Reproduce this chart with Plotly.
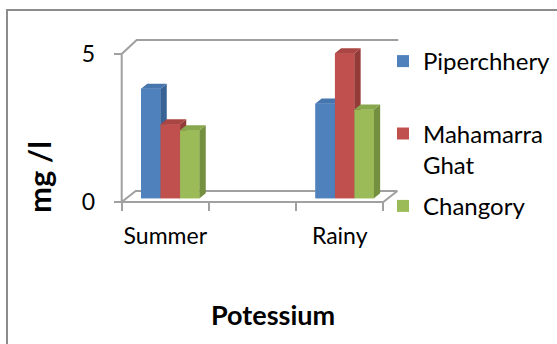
import plotly.graph_objects as go

# ---- data -------------------------------------------------------------
categories = ["Summer", "Rainy"]
series_names = ["Piperchhery<br> ", "Mahamarra<br>Ghat", "Changory"]
piperchhery = [3.7, 3.2]
mahamarra_ghat = [2.5, 4.9]
changory = [2.3, 3.0]
y_tick_values = [0, 5]
y_tick_labels = ["0", "5"]
x_title = "Potessium"
y_title = "mg /l"

series_values = [piperchhery, mahamarra_ghat, changory]

# ---- styling ------------------------------------------------------------
FRONT = ["#4F81BD", "#C0504D", "#9BBB59"]
SIDE = ["#3A6395", "#933B39", "#748F3F"]
TOP = ["#4776AF", "#A94542", "#89A84D"]
FRAME = "#A0A0A0"
FONT = "Lato"

W, H = 557, 344
# plot area in pixels (taller than the drawn frame so the legend fits without scrolling)
PL, PR, PT, PB = 117, 404, 4, 330
# front plane: pixel of x=-0.5 and px per x unit; pixel of y=0 and px per y unit
X0_PX, X_UNIT = 121.7, 87.2
Y0_PX, Y_UNIT = 202.0, 29.6

x_range = [-0.5 - (X0_PX - PL) / X_UNIT, -0.5 + (PR - X0_PX) / X_UNIT]
y_range = [-(PB - Y0_PX) / Y_UNIT, (Y0_PX - PT) / Y_UNIT]


def px_x(p):
    return p / X_UNIT


def px_y(p):
    return p / Y_UNIT


def paper_x(px):
    return (px - PL) / (PR - PL)


def paper_y(py):
    return (PB - py) / (PB - PT)


cat_x = [2 * i for i in range(len(categories))]
x_lo, x_hi = cat_x[0] - 0.5, cat_x[-1] + 0.5
y_lo, y_hi = y_tick_values[0], y_tick_values[-1]

# oblique depth offsets (data units)
floor_dx, floor_dy = px_x(14), px_y(11)
ceil_dx, ceil_dy = px_x(15), px_y(14)
bar_sx, bar_sy = px_x(5), px_y(3.7)        # bar front plane
bar_dx, bar_dy = px_x(6.2), px_y(5)        # bar depth
bar_w = px_x(19.5)

fig = go.Figure()

# legend / base bars (front faces)
for i, (name, vals) in enumerate(zip(series_names, series_values)):
    fig.add_trace(go.Bar(
        x=cat_x, y=vals, base=bar_sy, width=bar_w,
        offset=-1.5 * bar_w + i * bar_w + bar_sx,
        name=name, marker=dict(color=FRONT[i], line=dict(width=0)),
        legendgroup=f"g{i}", hoverinfo="skip",
    ))

# walls and floor outline
fx, fy = [], []
fx += [x_lo, x_lo, x_lo + ceil_dx, x_hi + ceil_dx, None]
fy += [y_lo, y_hi, y_hi + ceil_dy, y_hi + ceil_dy, None]
fx += [x_lo, x_hi, x_hi + floor_dx, x_lo + floor_dx, x_lo, None]
fy += [y_lo, y_lo, y_lo + floor_dy, y_lo + floor_dy, y_lo, None]
fig.add_trace(go.Scatter(x=fx, y=fy, mode="lines", line=dict(color=FRAME, width=2),
                         showlegend=False, hoverinfo="skip"))

# 3D faces of every bar, painted left to right
for i, vals in enumerate(series_values):
    px_, py_, sx_, sy_, tx_, ty_ = [], [], [], [], [], []
    for c, v in zip(cat_x, vals):
        xl = c - 1.5 * bar_w + i * bar_w + bar_sx
        xr = xl + bar_w
        b, t = bar_sy, bar_sy + v
        px_ += [xl, xr, xr, xl, xl, None]
        py_ += [b, b, t, t, b, None]
        sx_ += [xr, xr + bar_dx, xr + bar_dx, xr, xr, None]
        sy_ += [b, b + bar_dy, t + bar_dy, t, b, None]
        tx_ += [xl, xr, xr + bar_dx, xl + bar_dx, xl, None]
        ty_ += [t, t, t + bar_dy, t + bar_dy, t, None]
    for xs, ys, col in ((px_, py_, FRONT[i]), (sx_, sy_, SIDE[i]), (tx_, ty_, TOP[i])):
        fig.add_trace(go.Scatter(x=xs, y=ys, mode="lines", fill="toself",
                                 fillcolor=col, line=dict(width=0, color=col),
                                 showlegend=False, hoverinfo="skip"))

fig.update_layout(
    width=W, height=H,
    margin=dict(l=PL, r=W - PR, t=PT, b=H - PB, pad=0, autoexpand=False),
    paper_bgcolor="white", plot_bgcolor="rgba(0,0,0,0)",
    barmode="overlay",
    font=dict(family=FONT, size=23, color="#000000"),
    showlegend=True,
    legend=dict(
        x=paper_x(383), y=paper_y(39), xanchor="left", yanchor="top",
        bgcolor="rgba(0,0,0,0)", borderwidth=0, tracegroupgap=7,
        valign="top", font=dict(family=FONT, size=24, color="#000000"),
        traceorder="grouped",
    ),
    xaxis=dict(
        range=x_range, anchor="free", position=(PB - Y0_PX) / (PB - PT),
        tickmode="array", tickvals=cat_x, ticktext=categories, ticks="",
        ticklabelstandoff=18, showgrid=False, zeroline=False, showline=False,
        minor=dict(tickmode="array", tickvals=[k - 0.5 for k in range(len(cat_x) * 2)],
                   ticks="outside", ticklen=8, tickwidth=2, tickcolor=FRAME, showgrid=False),
        fixedrange=True,
    ),
    yaxis=dict(
        range=y_range, anchor="free", position=(X0_PX - PL) / (PR - PL),
        tickmode="array", tickvals=y_tick_values, ticktext=y_tick_labels,
        ticks="outside", ticklen=8, tickwidth=2, tickcolor=FRAME,
        ticklabelstandoff=14, showgrid=False, zeroline=False, showline=False,
        fixedrange=True,
    ),
    annotations=[
        dict(text=f"<b>{y_title}</b>", x=paper_x(39), y=paper_y(177), xref="paper", yref="paper",
             showarrow=False, textangle=-90, font=dict(family=FONT, size=31, color="#000000"),
             xanchor="center", yanchor="middle"),
        dict(text=f"<b>{x_title}</b>", x=paper_x(273), y=paper_y(314), xref="paper", yref="paper",
             showarrow=False, font=dict(family=FONT, size=27, color="#000000"),
             xanchor="center", yanchor="middle"),
    ],
    shapes=[
        dict(type="rect", xref="paper", yref="paper",
             x0=paper_x(7), y0=paper_y(10), x1=paper_x(W + 20), y1=paper_y(H + 20),
             line=dict(color="#8C8C8C", width=2), fillcolor="rgba(0,0,0,0)", layer="below"),
    ],
)

fig.write_html("out.html")
